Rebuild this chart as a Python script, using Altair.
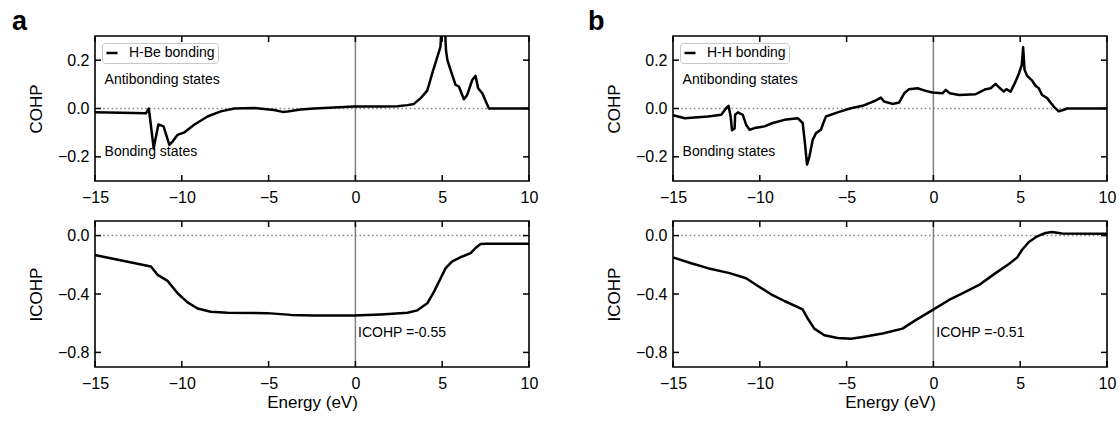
import altair as alt
import pandas as pd

FONT = "Liberation Sans"

# ---------------- data ----------------
# Panel a, top: COHP of H-Be bonding
a_cohp_x = [-15, -12.07, -11.9, -11.62, -11.35, -11.05, -10.72, -10.52, -10.24, -9.86,
            -9.29, -8.52, -7.75, -6.98, -5.83, -4.68, -4.2, -3.91, -3.15, -2.38, -0.08,
            1.46, 2.42, 3.0, 3.37, 3.76, 4.14, 4.43, 4.72, 4.9, 4.96, 5.15, 5.22, 5.3,
            5.48, 5.77, 5.96, 6.25, 6.44, 6.73, 6.92, 7.07, 7.31, 7.69, 10]
a_cohp_y = [-0.016, -0.02, 0.0, -0.164, -0.066, -0.074, -0.15, -0.136, -0.109, -0.099,
            -0.067, -0.033, -0.012, 0.0, 0.002, -0.006, -0.014, -0.012, -0.004, 0.0, 0.008,
            0.008, 0.009, 0.014, 0.019, 0.043, 0.074, 0.146, 0.214, 0.255, 0.34, 0.34, 0.24, 0.2,
            0.16, 0.098, 0.091, 0.038, 0.056, 0.118, 0.135, 0.084, 0.063, 0.0, 0.0]

# Panel a, bottom: ICOHP
a_icohp_x = [-15, -14.88, -11.78, -11.39, -10.82, -10.24, -9.67, -9.09, -8.33, -7.37, -5.07,
             -3.72, -2.38, -0.08, 1.46, 3.0, 3.57, 4.14, 4.53, 4.91, 5.2, 5.58, 6.16, 6.64,
             6.92, 7.21, 7.5, 10]
a_icohp_y = [-0.135, -0.136, -0.211, -0.269, -0.31, -0.395, -0.457, -0.499, -0.522, -0.529, -0.531,
             -0.543, -0.548, -0.548, -0.54, -0.528, -0.512, -0.464, -0.384, -0.292, -0.223, -0.177,
             -0.143, -0.12, -0.085, -0.057, -0.055, -0.055]

# Panel b, top: COHP of H-H bonding
b_cohp_x = [-15, -14.87, -14.33, -12.99, -12.22, -11.94, -11.8, -11.68, -11.6, -11.45, -11.42,
            -11.26, -10.98, -10.79, -10.59, -10.3, -9.73, -9.25, -8.58, -7.82, -7.53, -7.4,
            -7.28, -7.14, -6.95, -6.76, -6.48, -6.34, -6.19, -5.52, -4.75, -4.08, -3.32, -3.03,
            -2.84, -2.36, -1.97, -1.68, -1.4, -0.92, -0.44, -0.06, 0.52, 0.71, 0.94, 1.48, 2.43,
            3.01, 3.3, 3.58, 3.77, 4.06, 4.2, 4.45, 4.73, 4.93, 5.09, 5.17, 5.25, 5.4, 5.69,
            5.88, 6.07, 6.26, 6.55, 6.93, 7.22, 7.51, 7.7, 10]
b_cohp_y = [-0.028, -0.03, -0.04, -0.033, -0.026, 0.001, 0.011, -0.033, -0.09, -0.083, -0.026,
            -0.016, -0.026, -0.067, -0.088, -0.081, -0.074, -0.06, -0.047, -0.04, -0.06, -0.143,
            -0.232, -0.198, -0.129, -0.102, -0.088, -0.06, -0.033, -0.016, 0.001, 0.011, 0.033, 0.045,
            0.029, 0.019, 0.025, 0.063, 0.08, 0.084, 0.073, 0.066, 0.063, 0.077, 0.063, 0.056, 0.059,
            0.08, 0.084, 0.102, 0.088, 0.07, 0.08, 0.07, 0.111, 0.146, 0.18, 0.253, 0.16, 0.135, 0.115,
            0.094, 0.084, 0.056, 0.043, 0.008, -0.012, -0.005, 0.0, 0.0]

# Panel b, bottom: ICOHP
b_icohp_x = [-15, -14.87, -13.95, -12.99, -11.74, -10.79, -10.11, -9.35, -8.58, -7.53, -7.24,
             -6.86, -6.28, -5.52, -4.75, -4.08, -2.93, -1.78, -1.02, -0.06, 0.9, 1.67, 2.63,
             3.58, 4.35, 4.83, 5.11, 5.5, 5.98, 6.45, 6.84, 7.41, 10]
b_icohp_y = [-0.152, -0.154, -0.189, -0.223, -0.257, -0.292, -0.345, -0.402, -0.448, -0.506, -0.568,
             -0.637, -0.683, -0.701, -0.706, -0.694, -0.671, -0.637, -0.579, -0.51, -0.441, -0.395,
             -0.338, -0.257, -0.195, -0.149, -0.097, -0.044, -0.005, 0.018, 0.025, 0.014, 0.012]

x_ticks = [-15, -10, -5, 0, 5, 10]
cohp_ticks = [-0.2, 0.0, 0.2]
icohp_ticks = [-0.8, -0.4, 0.0]
cohp_domain = [-0.3, 0.3]
icohp_domain = [-0.9, 0.1]
x_domain = [-15, 10]

# annotations (x, y, text)
cohp_notes_x = [-14.45, -14.45]
cohp_notes_y = [0.12, -0.18]
cohp_notes_t = ["Antibonding states", "Bonding states"]
a_icohp_note = (0.15, -0.665, "ICOHP =-0.55")
b_icohp_note = (0.17, -0.665, "ICOHP =-0.51")

W = 434
H_TOP = 145
H_BOT = 146
TICK = 6


def make_panel(xv, yv, ydom, yticks, ytitle, xtitle, h, notes_x, notes_y, notes_t,
               series=None, letter=None, letter_dx=-83):
    xs = alt.Scale(domain=x_domain, nice=False, zero=False)
    ys = alt.Scale(domain=ydom, nice=False, zero=False)
    ax_x = alt.Axis(values=x_ticks, format="d", title=xtitle)
    ax_y = alt.Axis(values=yticks, format=".1f", title=ytitle)

    def X(f="x"):
        return alt.X(f"{f}:Q", scale=xs, axis=ax_x)

    def Y(f="y"):
        return alt.Y(f"{f}:Q", scale=ys, axis=ax_y)

    df = pd.DataFrame({"x": xv, "y": yv})
    layers = []

    enc = dict(x=X(), y=Y())
    if series is not None:
        df["s"] = series
        enc["color"] = alt.Color(
            "s:N",
            scale=alt.Scale(domain=[series], range=["black"]),
            legend=alt.Legend(
                orient="top-left", title=None, offset=7,
                strokeColor="#c8c8c8", fillColor="white", cornerRadius=3, padding=3,
                symbolType="stroke", symbolStrokeWidth=2.5, symbolSize=121,
                labelFont=FONT, labelFontSize=14, labelColor="black", labelOffset=10,
            ),
        )
    main = alt.Chart(df).mark_line(color="black", strokeWidth=2.5, clip=True,
                                   strokeJoin="round").encode(**enc)

    # zero lines
    layers.append(
        alt.Chart(pd.DataFrame({"y": [0.0]})).mark_rule(
            color="#8a8a8a", strokeWidth=1.5, strokeDash=[1.6, 2.6]
        ).encode(y=Y())
    )
    layers.append(
        alt.Chart(pd.DataFrame({"x": [0.0]})).mark_rule(
            color="#808080", strokeWidth=1.5
        ).encode(x=X())
    )
    layers.append(main)

    # inward ticks on all four sides
    xt = pd.DataFrame({"x": x_ticks})
    yt = pd.DataFrame({"y": yticks})
    layers.append(alt.Chart(xt).mark_rule(color="black", strokeWidth=1.5).encode(
        x=X(), y=alt.value(h), y2=alt.value(h - TICK)))
    layers.append(alt.Chart(xt).mark_rule(color="black", strokeWidth=1.5).encode(
        x=X(), y=alt.value(0), y2=alt.value(TICK)))
    layers.append(alt.Chart(yt).mark_rule(color="black", strokeWidth=1.5).encode(
        y=Y(), x=alt.value(0), x2=alt.value(TICK)))
    layers.append(alt.Chart(yt).mark_rule(color="black", strokeWidth=1.5).encode(
        y=Y(), x=alt.value(W), x2=alt.value(W - TICK)))

    # annotations
    nd = pd.DataFrame({"x": notes_x, "y": notes_y, "t": notes_t})
    layers.append(alt.Chart(nd).mark_text(
        align="left", baseline="middle", font=FONT, fontSize=14, color="black"
    ).encode(x=X(), y=Y(), text="t:N"))

    if letter is not None:
        layers.append(alt.Chart(pd.DataFrame({"t": [letter]})).mark_text(
            align="left", baseline="alphabetic", font=FONT, fontSize=27,
            fontWeight="bold", color="black"
        ).encode(x=alt.value(letter_dx), y=alt.value(-6), text="t:N"))

    return alt.layer(*layers).properties(width=W, height=h)


a_top = make_panel(a_cohp_x, a_cohp_y, cohp_domain, cohp_ticks, "COHP", None, H_TOP,
                   cohp_notes_x, cohp_notes_y, cohp_notes_t,
                   series="H-Be bonding", letter="a", letter_dx=-83)
a_bot = make_panel(a_icohp_x, a_icohp_y, icohp_domain, icohp_ticks, "ICOHP", "Energy (eV)", H_BOT,
                   [a_icohp_note[0]], [a_icohp_note[1]], [a_icohp_note[2]])
b_top = make_panel(b_cohp_x, b_cohp_y, cohp_domain, cohp_ticks, "COHP", None, H_TOP,
                   cohp_notes_x, cohp_notes_y, cohp_notes_t,
                   series="H-H bonding", letter="b", letter_dx=-85)
b_bot = make_panel(b_icohp_x, b_icohp_y, icohp_domain, icohp_ticks, "ICOHP", "Energy (eV)", H_BOT,
                   [b_icohp_note[0]], [b_icohp_note[1]], [b_icohp_note[2]])

res = dict(x="independent", y="independent", color="independent")
left = alt.vconcat(a_top, a_bot, spacing=13).resolve_scale(**res)
right = alt.vconcat(b_top, b_bot, spacing=13).resolve_scale(**res)

chart = (
    alt.hconcat(left, right, spacing=48)
    .resolve_scale(**res)
    .properties(padding={"left": 11, "top": 7, "right": 0, "bottom": 0}, background="white")
    .configure_view(stroke="black", strokeWidth=1.6)
    .configure_axis(
        ticks=False, domain=False, grid=False,
        labelFont=FONT, labelFontSize=16, labelColor="black",
        titleFont=FONT, titleFontSize=17, titleFontWeight="normal", titleColor="black",
    )
    .configure_axisX(labelPadding=8, titlePadding=3, labelFlush=False)
    .configure_axisY(labelPadding=6, titlePadding=12)
)

chart.save("out.html", embed_options={"renderer": "svg", "actions": False})
